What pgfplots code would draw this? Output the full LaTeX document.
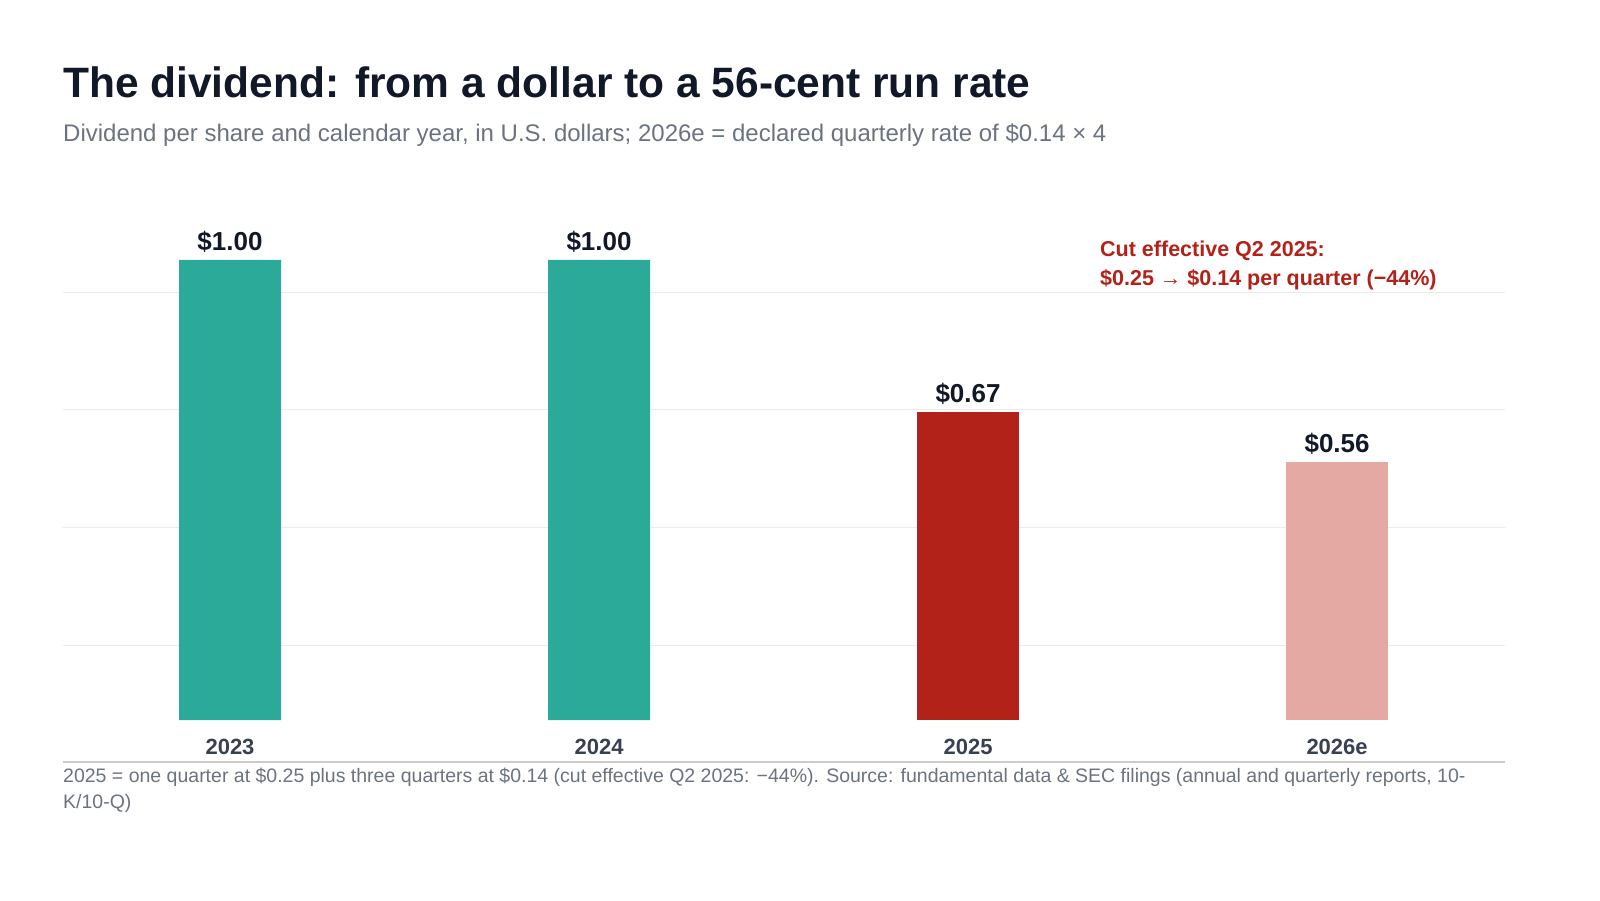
\documentclass[border=0pt]{standalone}
\usepackage{pgfplots}
\pgfplotsset{compat=1.18}
\usepackage{fontspec}
\setmainfont{Liberation Sans}
\definecolor{teal}{HTML}{2BAA9A}
\definecolor{cutred}{HTML}{B22218}
\definecolor{pinkish}{HTML}{E4A9A3}
\definecolor{titlec}{HTML}{111827}
\definecolor{subc}{HTML}{6B7280}
\definecolor{tickc}{HTML}{374151}
\begin{document}
\begin{tikzpicture}[x=1pt,y=1pt]
\node[anchor=base west,inner sep=0,font=\fontsize{42.5}{48}\selectfont\bfseries,text=titlec] at (63,-97) {The dividend: from a dollar to a 56-cent run rate};
\node[anchor=base west,inner sep=0,font=\fontsize{24}{28}\selectfont,text=subc] at (63,-141) {Dividend per share and calendar year, in U.S. dollars; 2026e = declared quarterly rate of \$0.14 × 4};
\begin{axis}[at={(63pt,-762pt)},anchor=south west,scale only axis,
  width=1442pt,height=562pt,
  xmin=-0.4526,xmax=3.455,ymin=-0.0913,ymax=1.1304,
  axis lines*=left,
  x axis line style={draw=black!20, line width=1.2pt,-},
  y axis line style={draw=none},
  xtick=\empty, ytick={0.163,0.419,0.674,0.93}, yticklabels={},
  ymajorgrids, grid style={draw=black!8,line width=1pt},
  major tick length=0pt,
  /pgf/number format/assume math mode=true,
  ybar, bar width=102pt, bar shift=0pt,
  every axis plot/.append style={draw=none},
  nodes near coords={\$\pgfmathprintnumber[fixed,fixed zerofill,precision=2]{\pgfplotspointmeta}},
  every node near coord/.append style={font=\fontsize{26}{30}\selectfont\bfseries,text=titlec,yshift=4pt},
  clip=false]
\addplot[fill=teal] coordinates {(0,1.00) (1,1.00)};
\addplot[fill=cutred] coordinates {(2,0.67)};
\addplot[fill=pinkish] coordinates {(3,0.56)};
\foreach \i/\l in {0/2023,1/2024,2/2025,3/2026e}{
  \edef\tmp{\noexpand\node[font=\noexpand\fontsize{22}{26}\noexpand\selectfont\noexpand\bfseries,text=tickc] at (axis cs:\i,-0.0587) {\l};}\tmp
}
\end{axis}
\node[anchor=base west,align=left,inner sep=0,font=\fontsize{21.5}{29}\selectfont\bfseries,text=cutred] at (1100,-285) {Cut effective Q2 2025:\\\$0.25 → \$0.14 per quarter (−44\%)};
\node[anchor=base west,align=left,inner sep=0,font=\fontsize{19.5}{26}\selectfont,text=subc] at (63,-808) {2025 = one quarter at \$0.25 plus three quarters at \$0.14 (cut effective Q2 2025: −44\%). Source: fundamental data \& SEC filings (annual and quarterly reports, 10-\\K/10-Q)};
\pgfresetboundingbox
\path (0,0) rectangle (1600,-900);
\end{tikzpicture}
\end{document}
